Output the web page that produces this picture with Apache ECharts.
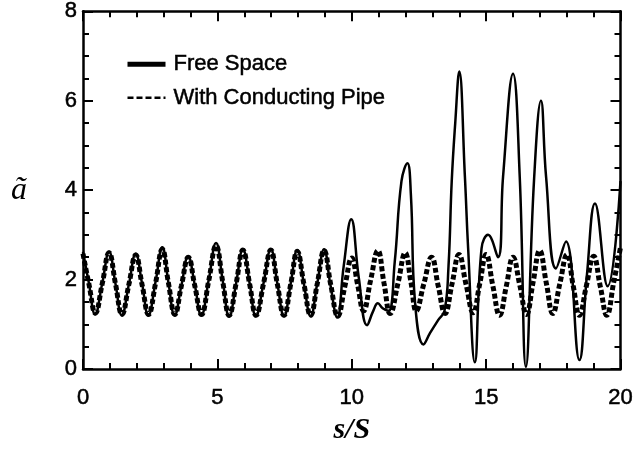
<!DOCTYPE html>
<html>
<head>
<meta charset="utf-8">
<script src="https://cdn.jsdelivr.net/npm/echarts@6/dist/echarts.min.js"></script>
<style>
html,body{margin:0;padding:0;background:#fff;}
#chart{width:636px;height:450px;}
</style>
</head>
<body>
<div id="chart"></div>
<script>
// ---- data ----
var xTicks = [0, 5, 10, 15, 20];
var yTicks = [0, 2, 4, 6, 8];
var seriesNames = ['Free Space', 'With Conducting Pipe'];

var freeS = [0,0.22,0.45,0.72,0.97,1.21,1.44,1.71,1.96,2.2,2.43,2.7,2.95,3.18,3.41,3.66,3.91,4.16,4.4,4.68,4.95,5.2,5.44,5.7,5.95,6.2,6.43,6.72,6.99,7.23,7.48,7.73,7.97,8.22,8.47,8.72,8.97,9.2,9.46,9.7,9.98,10.26,10.57,10.8,10.97,11.15,11.37,11.6,11.85,12.07,12.2,12.36,12.67,12.91,13.22,13.45,13.6,13.72,13.85,14.0,14.21,14.33,14.58,14.83,15.07,15.44,15.63,16.0,16.25,16.48,16.78,17.04,17.23,17.6,17.97,18.47,18.75,19.05,19.52,20.0];
var freeA = [2.62,1.92,1.22,1.93,2.62,1.9,1.2,1.9,2.58,1.9,1.2,1.95,2.72,1.93,1.2,1.86,2.52,1.88,1.2,2.0,2.82,1.97,1.17,1.93,2.68,1.92,1.18,1.93,2.68,1.92,1.18,1.92,2.66,1.9,1.18,1.93,2.68,1.9,1.15,2.3,3.35,2.05,0.98,1.3,1.47,1.36,1.3,2.4,4.2,4.6,3.9,1.45,0.55,0.8,1.1,1.3,2.3,4.2,5.5,6.65,4.3,2.7,0.15,2.7,3.0,2.5,4.3,6.6,4.3,0.05,4.2,6.0,4.3,2.25,2.85,0.2,2.1,3.7,1.85,4.2];

var pipeS = [0,0.22,0.46,0.72,0.97,1.21,1.45,1.71,1.96,2.2,2.44,2.7,2.95,3.18,3.42,3.66,3.92,4.16,4.41,4.68,4.95,5.2,5.44,5.7,5.95,6.2,6.44,6.72,6.99,7.23,7.48,7.73,7.97,8.22,8.47,8.72,8.97,9.22,9.48,9.74,10.0,10.22,10.44,10.7,10.97,11.2,11.43,11.72,11.99,12.2,12.4,12.68,12.97,13.22,13.47,13.73,13.99,14.25,14.52,14.76,15.0,15.25,15.5,15.75,16.0,16.25,16.5,16.75,16.99,17.24,17.48,17.74,18.01,18.24,18.47,18.73,19.0,19.25,19.49,19.75,20.0];
var pipeA = [2.58,1.9,1.25,1.92,2.6,1.9,1.22,1.9,2.55,1.88,1.22,1.92,2.68,1.92,1.22,1.86,2.5,1.86,1.22,1.98,2.76,1.95,1.2,1.92,2.66,1.9,1.2,1.92,2.66,1.9,1.2,1.9,2.63,1.9,1.2,1.92,2.65,1.88,1.18,1.84,2.48,1.88,1.3,1.98,2.65,1.92,1.24,1.92,2.6,1.95,1.3,1.9,2.5,1.85,1.24,1.9,2.56,1.9,1.26,1.9,2.56,1.86,1.2,1.85,2.5,1.88,1.22,1.95,2.65,1.92,1.24,1.9,2.56,1.86,1.2,1.86,2.52,1.84,1.2,1.95,2.72];

function zip(a, b) { return a.map(function (v, i) { return [v, b[i]]; }); }

var chart = echarts.init(document.getElementById('chart'), null, {renderer: 'canvas'});

var lineCol = '#000';
var textFx = {textBorderColor: '#000', textBorderWidth: 0.5};
function makeX(pos, showLabels) {
  return {
    type: 'value', position: pos, min: xTicks[0], max: xTicks[xTicks.length - 1], interval: xTicks[1] - xTicks[0],
    axisLine: {show: true, onZero: false, lineStyle: {color: lineCol, width: 2.5}},
    axisTick: {show: true, inside: true, length: 10, lineStyle: {color: lineCol, width: 2}},
    minorTick: {show: true, splitNumber: 5, length: 6, lineStyle: {color: lineCol, width: 2}},
    splitLine: {show: false}, minorSplitLine: {show: false},
    axisLabel: Object.assign({show: showLabels, color: '#000', fontSize: 22, fontFamily: 'Liberation Sans', margin: 18}, textFx),
    name: showLabels ? 's/S' : '', nameLocation: 'middle', nameGap: 46,
    nameTextStyle: {color: '#000', fontFamily: 'Liberation Serif', fontStyle: 'italic', fontWeight: 'bold', fontSize: 30}
  };
}
function makeY(pos, showLabels) {
  return {
    type: 'value', position: pos, min: yTicks[0], max: yTicks[yTicks.length - 1], interval: yTicks[1] - yTicks[0],
    axisLine: {show: true, onZero: false, lineStyle: {color: lineCol, width: 2.5}},
    axisTick: {show: true, inside: true, length: 10, lineStyle: {color: lineCol, width: 2}},
    minorTick: {show: true, splitNumber: 4, length: 6, lineStyle: {color: lineCol, width: 2}},
    splitLine: {show: false}, minorSplitLine: {show: false},
    axisLabel: Object.assign({show: showLabels, color: '#000', fontSize: 22, fontFamily: 'Liberation Sans', margin: 6}, textFx),
    name: showLabels ? 'ã' : '', nameLocation: 'middle', nameGap: 56, nameRotate: 0,
    nameTextStyle: {color: '#000', fontFamily: 'Liberation Serif', fontStyle: 'italic', fontSize: 32}
  };
}

chart.setOption({
  backgroundColor: '#fff',
  animation: false,
  grid: {left: 83, right: 13, top: 11, bottom: 77, containLabel: false},
  xAxis: [makeX('bottom', true), makeX('top', false)],
  yAxis: [makeY('left', true), makeY('right', false)],
  legend: {
    show: true, orient: 'vertical', left: 125, top: 53, padding: 0,
    itemWidth: 38, itemHeight: 14, itemGap: 11,
    itemStyle: {opacity: 0, borderWidth: 0},
    textStyle: Object.assign({color: '#000', fontSize: 22, fontFamily: 'Liberation Sans', padding: [0, 0, 0, 3]}, textFx),
    data: [
      {name: seriesNames[0], lineStyle: {width: 5, type: 'solid', color: '#000'}},
      {name: seriesNames[1], lineStyle: {width: 2.5, type: [6, 3], color: '#000'}}
    ]
  },
  series: [
    {
      name: seriesNames[0], type: 'line', xAxisIndex: 0, yAxisIndex: 0,
      data: zip(freeS, freeA), smooth: 0.45, showSymbol: false, symbol: 'none',
      lineStyle: {color: '#000', width: 2.5, type: 'solid'}, itemStyle: {color: '#000'}, z: 2
    },
    {
      name: seriesNames[1], type: 'line', xAxisIndex: 0, yAxisIndex: 0,
      data: zip(pipeS, pipeA), smooth: 0.45, showSymbol: false, symbol: 'none',
      lineStyle: {color: '#000', width: 5, type: [5, 2.5], cap: 'butt'}, itemStyle: {color: '#000'}, z: 3
    }
  ]
});
</script>
</body>
</html>
